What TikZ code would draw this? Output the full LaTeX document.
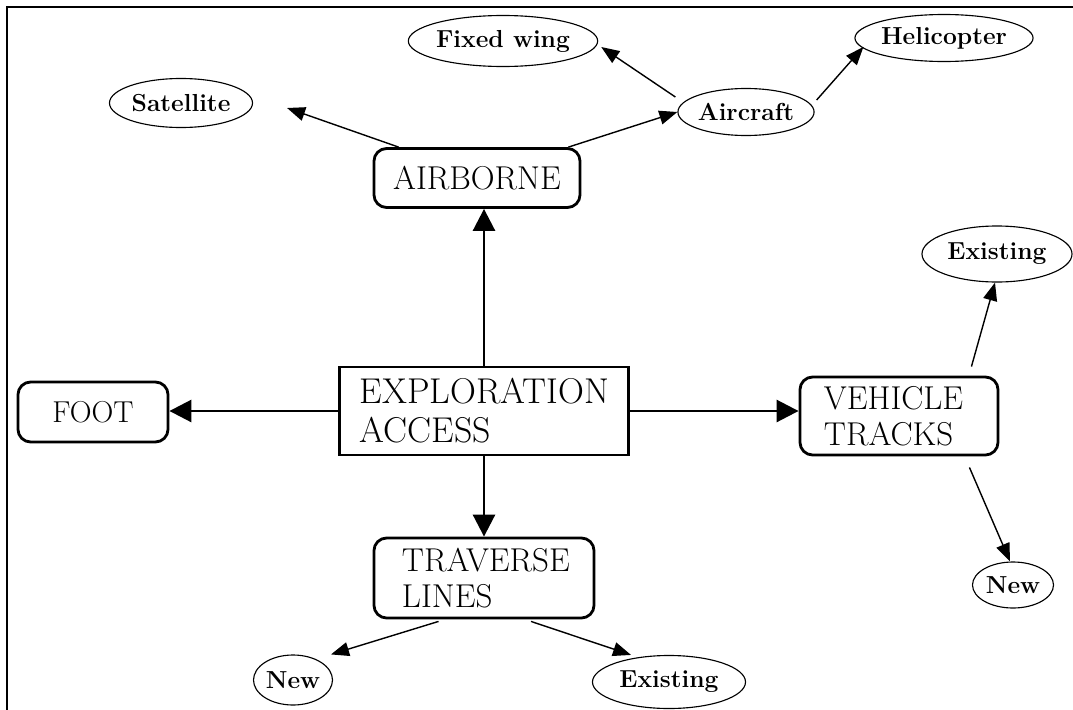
\documentclass[tikz,border=0pt]{standalone}
\usetikzlibrary{arrows.meta,shapes.geometric,calc}

\begin{document}
\begin{tikzpicture}[x=0.025cm,y=-0.025cm,
        hub/.style={draw,line width=2pt,inner xsep=0.5cm,inner ysep=0pt,text width=6.2cm,
          align=left,minimum width=7.225cm,minimum height=2.2cm,font=\fontsize{25.5}{27.7}\selectfont},
        branch/.style={draw,line width=2pt,rounded corners=9pt,inner sep=0pt,align=center,
          font=\fontsize{23.5}{26}\selectfont},
        leaf/.style={ellipse,draw,line width=0.8pt,inner sep=0pt,font=\fontsize{17.5}{18}\selectfont\bfseries},
        arr/.style={-{Triangle[length=0.55cm,width=0.55cm]},line width=2pt},
        twig/.style={-{Triangle[length=0.45cm,width=0.35cm]},line width=1pt}]
        \useasboundingbox (0,0) rectangle (1073,710);
        \draw[line width=1.5pt] (7,710) -- (7,7) -- (1073,7);
        % centre and main branches
        \node[hub](acc) at (484,411){EXPLORATION\\ACCESS};
        \node[branch,minimum width=3.75cm,minimum height=1.5cm,font=\fontsize{21.5}{22}\selectfont](foot) at (93,412){FOOT};
        \node[branch,minimum width=5.15cm,minimum height=1.475cm](air) at (477,178){AIRBORNE};
        \node[branch,minimum width=5.5cm,minimum height=2cm,text width=4.1cm,inner xsep=0.7cm,align=left](trav) at (484,578){TRAVERSE\\LINES};
        \node[branch,minimum width=4.95cm,minimum height=1.95cm,text width=3.75cm,inner xsep=0.6cm,align=left,
          font=\fontsize{23.5}{25.6}\selectfont](veh) at (899,416){VEHICLE\\TRACKS};
        % leaves
        \node[leaf,minimum width=3.575cm,minimum height=1.225cm](sat) at (181,103){Satellite};
        \node[leaf,minimum width=3.175cm,minimum height=1.175cm](acft) at (746,112){Aircraft};
        \node[leaf,minimum width=4.35cm,minimum height=1.275cm](fix) at (503,41){Fixed wing};
        \node[leaf,minimum width=4.15cm,minimum height=1.175cm](heli) at (944,38){Helicopter};
        \node[leaf,minimum width=3.75cm,minimum height=1.4cm](vexist) at (997,254){Existing};
        \node[leaf,minimum width=2.025cm,minimum height=1.15cm](vnew) at (1013,585){New};
        \node[leaf,minimum width=1.975cm,minimum height=1.25cm](tnew) at (293,680){New};
        \node[leaf,minimum width=3.825cm,minimum height=1.325cm](texist) at (669,682){Existing};
        % connectors
        \draw[arr](acc.north)--(acc.north |- air.south);
        \draw[arr](acc.west)--(acc.west -| foot.east);
        \draw[arr](acc.east)--(acc.east -| veh.west);
        \draw[arr](acc.south)--(acc.south |- trav.north);
        \draw[twig]($(air.north west)+(26,0)$)--($(sat.east)+(34,5)$);
        \draw[twig]($(air.north east)+(-13,0)$)--(acft.west);
        \draw[twig]($(acft.west)+(-2,-15)$)--($(fix.east)+(3,6)$);
        \draw[twig]($(acft.east)+(2,-12)$)--($(heli.west)+(9,9)$);
        \draw[twig]($(veh.north east)+(-28,-9)$)--($(vexist.south)+(-2,0)$);
        \draw[twig]($(veh.south east)+(-30,11)$)--($(vnew.north)+(-3,0)$);
        \draw[twig]($(trav.south west)+(66,2)$)--($(tnew.north)+(38,0)$);
        \draw[twig]($(trav.south)+(47,2)$)--($(texist.north)+(-38,0)$);
      \end{tikzpicture}
\end{document}
